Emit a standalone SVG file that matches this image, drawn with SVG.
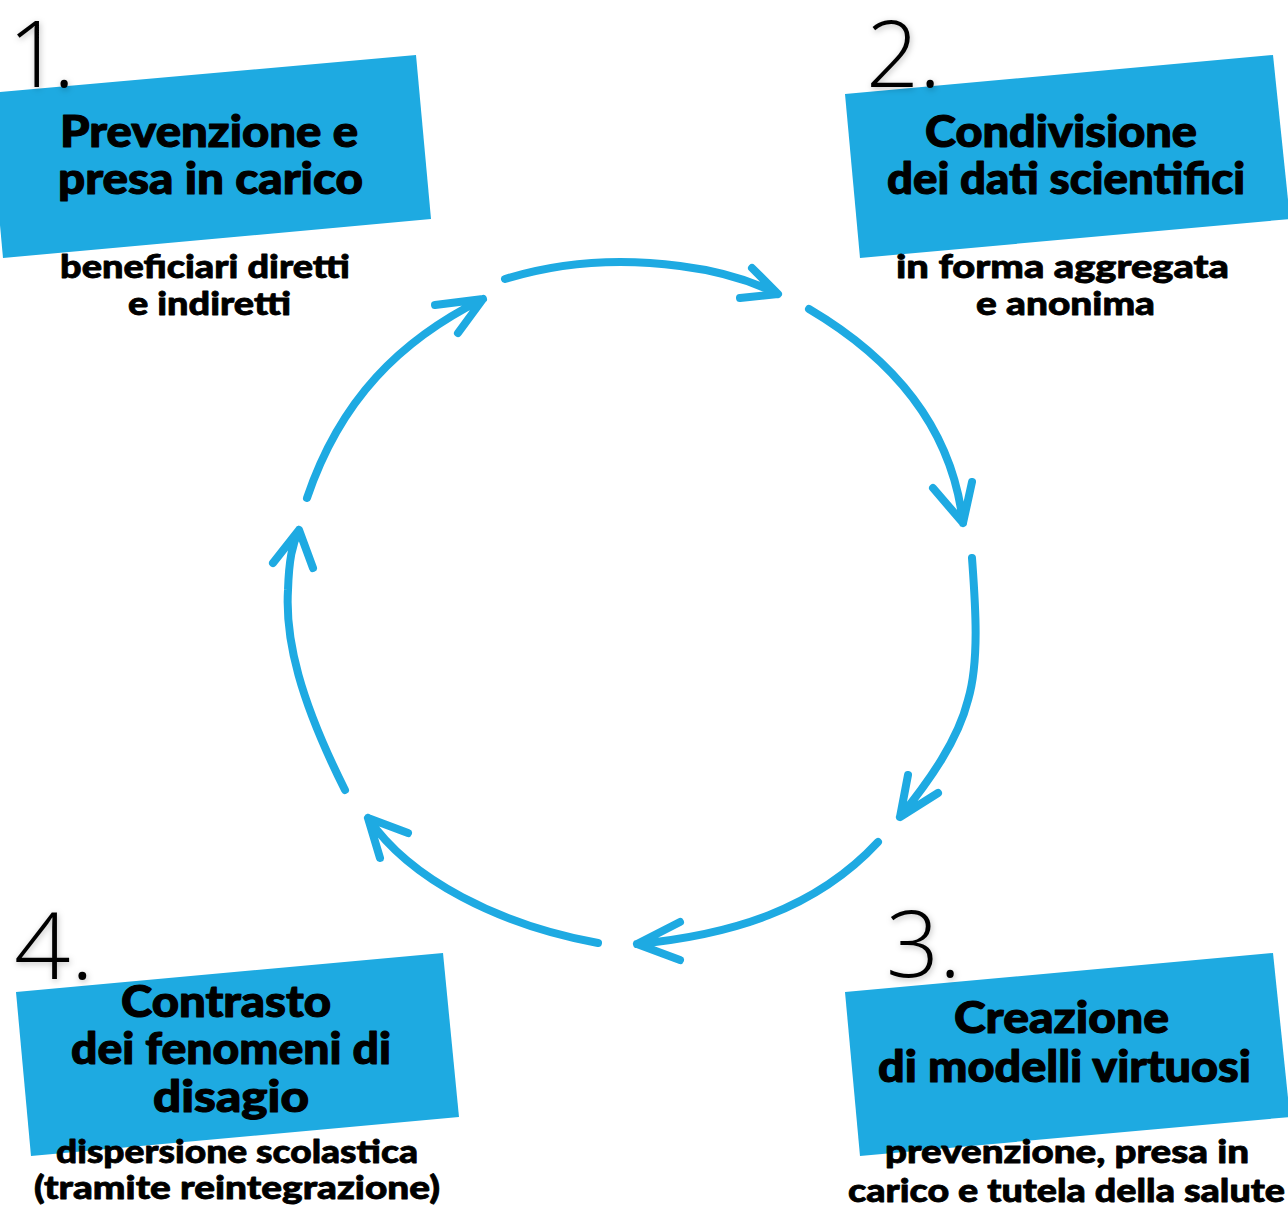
<svg xmlns="http://www.w3.org/2000/svg" width="1288" height="1210" viewBox="0 0 1288 1210">
<style>
.box{fill:#1EAAE1}
.t{font-family:"Lato","Liberation Sans",sans-serif;font-weight:900;font-size:44px;fill:#000;stroke:#000;stroke-width:1.1px;stroke-linejoin:round}
.s{font-family:"Lato","Liberation Sans",sans-serif;font-weight:900;font-size:33px;fill:#000;stroke:#000;stroke-width:0.8px;stroke-linejoin:round}
.n{font-family:"Open Sans","Liberation Sans",sans-serif;font-weight:300;font-size:93px;fill:#000;filter:url(#sh)}
.a{fill:none;stroke:#1EAAE2;stroke-width:8;stroke-linecap:round;stroke-linejoin:round}
</style>
<defs>
<filter id="sh" x="-30%" y="-30%" width="160%" height="160%">
<feDropShadow dx="1" dy="2" stdDeviation="3" flood-color="#000" flood-opacity="0.25"/>
</filter>
</defs>
<rect width="1288" height="1210" fill="#fff"/>
<g id="connectors">
<path class="a" d="M505,279 C560,262 620,258 680,266 C720,271 750,280 778,294 M752,268 L778,294 L740,298"/>
<path class="a" d="M809,309 C870,345 950,410 963,523 M933,488 L963,523 L972,482"/>
<path class="a" d="M972,558 C975,600 980,660 968,700 C958,740 930,780 900,817 M908,775 L900,817 L938,793"/>
<path class="a" d="M878,842 C815,910 730,935 637,944 M680,922 L637,944 L680,960"/>
<path class="a" d="M598,943 C500,925 410,880 368,818 M408,833 L368,818 L380,858"/>
<path class="a" d="M345,790 C300,700 285,640 288,590 C289,560 292,545 299,530 M273,563 L299,530 L313,568"/>
<path class="a" d="M307,498 C340,400 400,340 483,299 M435,305 L483,299 L458,333"/>
</g>
<g id="node1">
<polygon class="box" points="-12,93 416,55 431,219 3,258"/>
<text class="n" x="8" y="87" letter-spacing="-8">1.</text>
<text class="t" x="60" y="147" textLength="298" lengthAdjust="spacingAndGlyphs">Prevenzione e</text>
<text class="t" x="58" y="194" textLength="305" lengthAdjust="spacingAndGlyphs">presa in carico</text>
<text class="s" x="60" y="278" textLength="290" lengthAdjust="spacingAndGlyphs">beneficiari diretti</text>
<text class="s" x="128" y="315" textLength="163" lengthAdjust="spacingAndGlyphs">e indiretti</text>
</g>
<g id="node2">
<polygon class="box" points="845,94 1273,55 1290,219 860,258"/>
<text class="n" x="866" y="87">2.</text>
<text class="t" x="925" y="147" textLength="272" lengthAdjust="spacingAndGlyphs">Condivisione</text>
<text class="t" x="887" y="194" textLength="358" lengthAdjust="spacingAndGlyphs">dei dati scientifici</text>
<text class="s" x="896" y="278" textLength="333" lengthAdjust="spacingAndGlyphs">in forma aggregata</text>
<text class="s" x="976" y="315" textLength="179" lengthAdjust="spacingAndGlyphs">e anonima</text>
</g>
<g id="node3">
<polygon class="box" points="845,992 1273,953 1290,1117 860,1156"/>
<text class="n" x="886" y="977">3.</text>
<text class="t" x="954" y="1033" textLength="215" lengthAdjust="spacingAndGlyphs">Creazione</text>
<text class="t" x="878" y="1082" textLength="373" lengthAdjust="spacingAndGlyphs">di modelli virtuosi</text>
<text class="s" x="885" y="1163" textLength="364" lengthAdjust="spacingAndGlyphs">prevenzione, presa in</text>
<text class="s" x="848" y="1202" textLength="437" lengthAdjust="spacingAndGlyphs">carico e tutela della salute</text>
</g>
<g id="node4">
<polygon class="box" points="16,992 443,953 459,1117 31,1156"/>
<text class="n" x="14" y="979" textLength="80" lengthAdjust="spacingAndGlyphs">4.</text>
<text class="t" x="121" y="1017" textLength="210" lengthAdjust="spacingAndGlyphs">Contrasto</text>
<text class="t" x="71" y="1064" textLength="320" lengthAdjust="spacingAndGlyphs">dei fenomeni di</text>
<text class="t" x="153" y="1112" textLength="156" lengthAdjust="spacingAndGlyphs">disagio</text>
<text class="s" x="56" y="1163" textLength="362" lengthAdjust="spacingAndGlyphs">dispersione scolastica</text>
<text class="s" x="34" y="1199" textLength="406" lengthAdjust="spacingAndGlyphs">(tramite reintegrazione)</text>
</g>
</svg>
